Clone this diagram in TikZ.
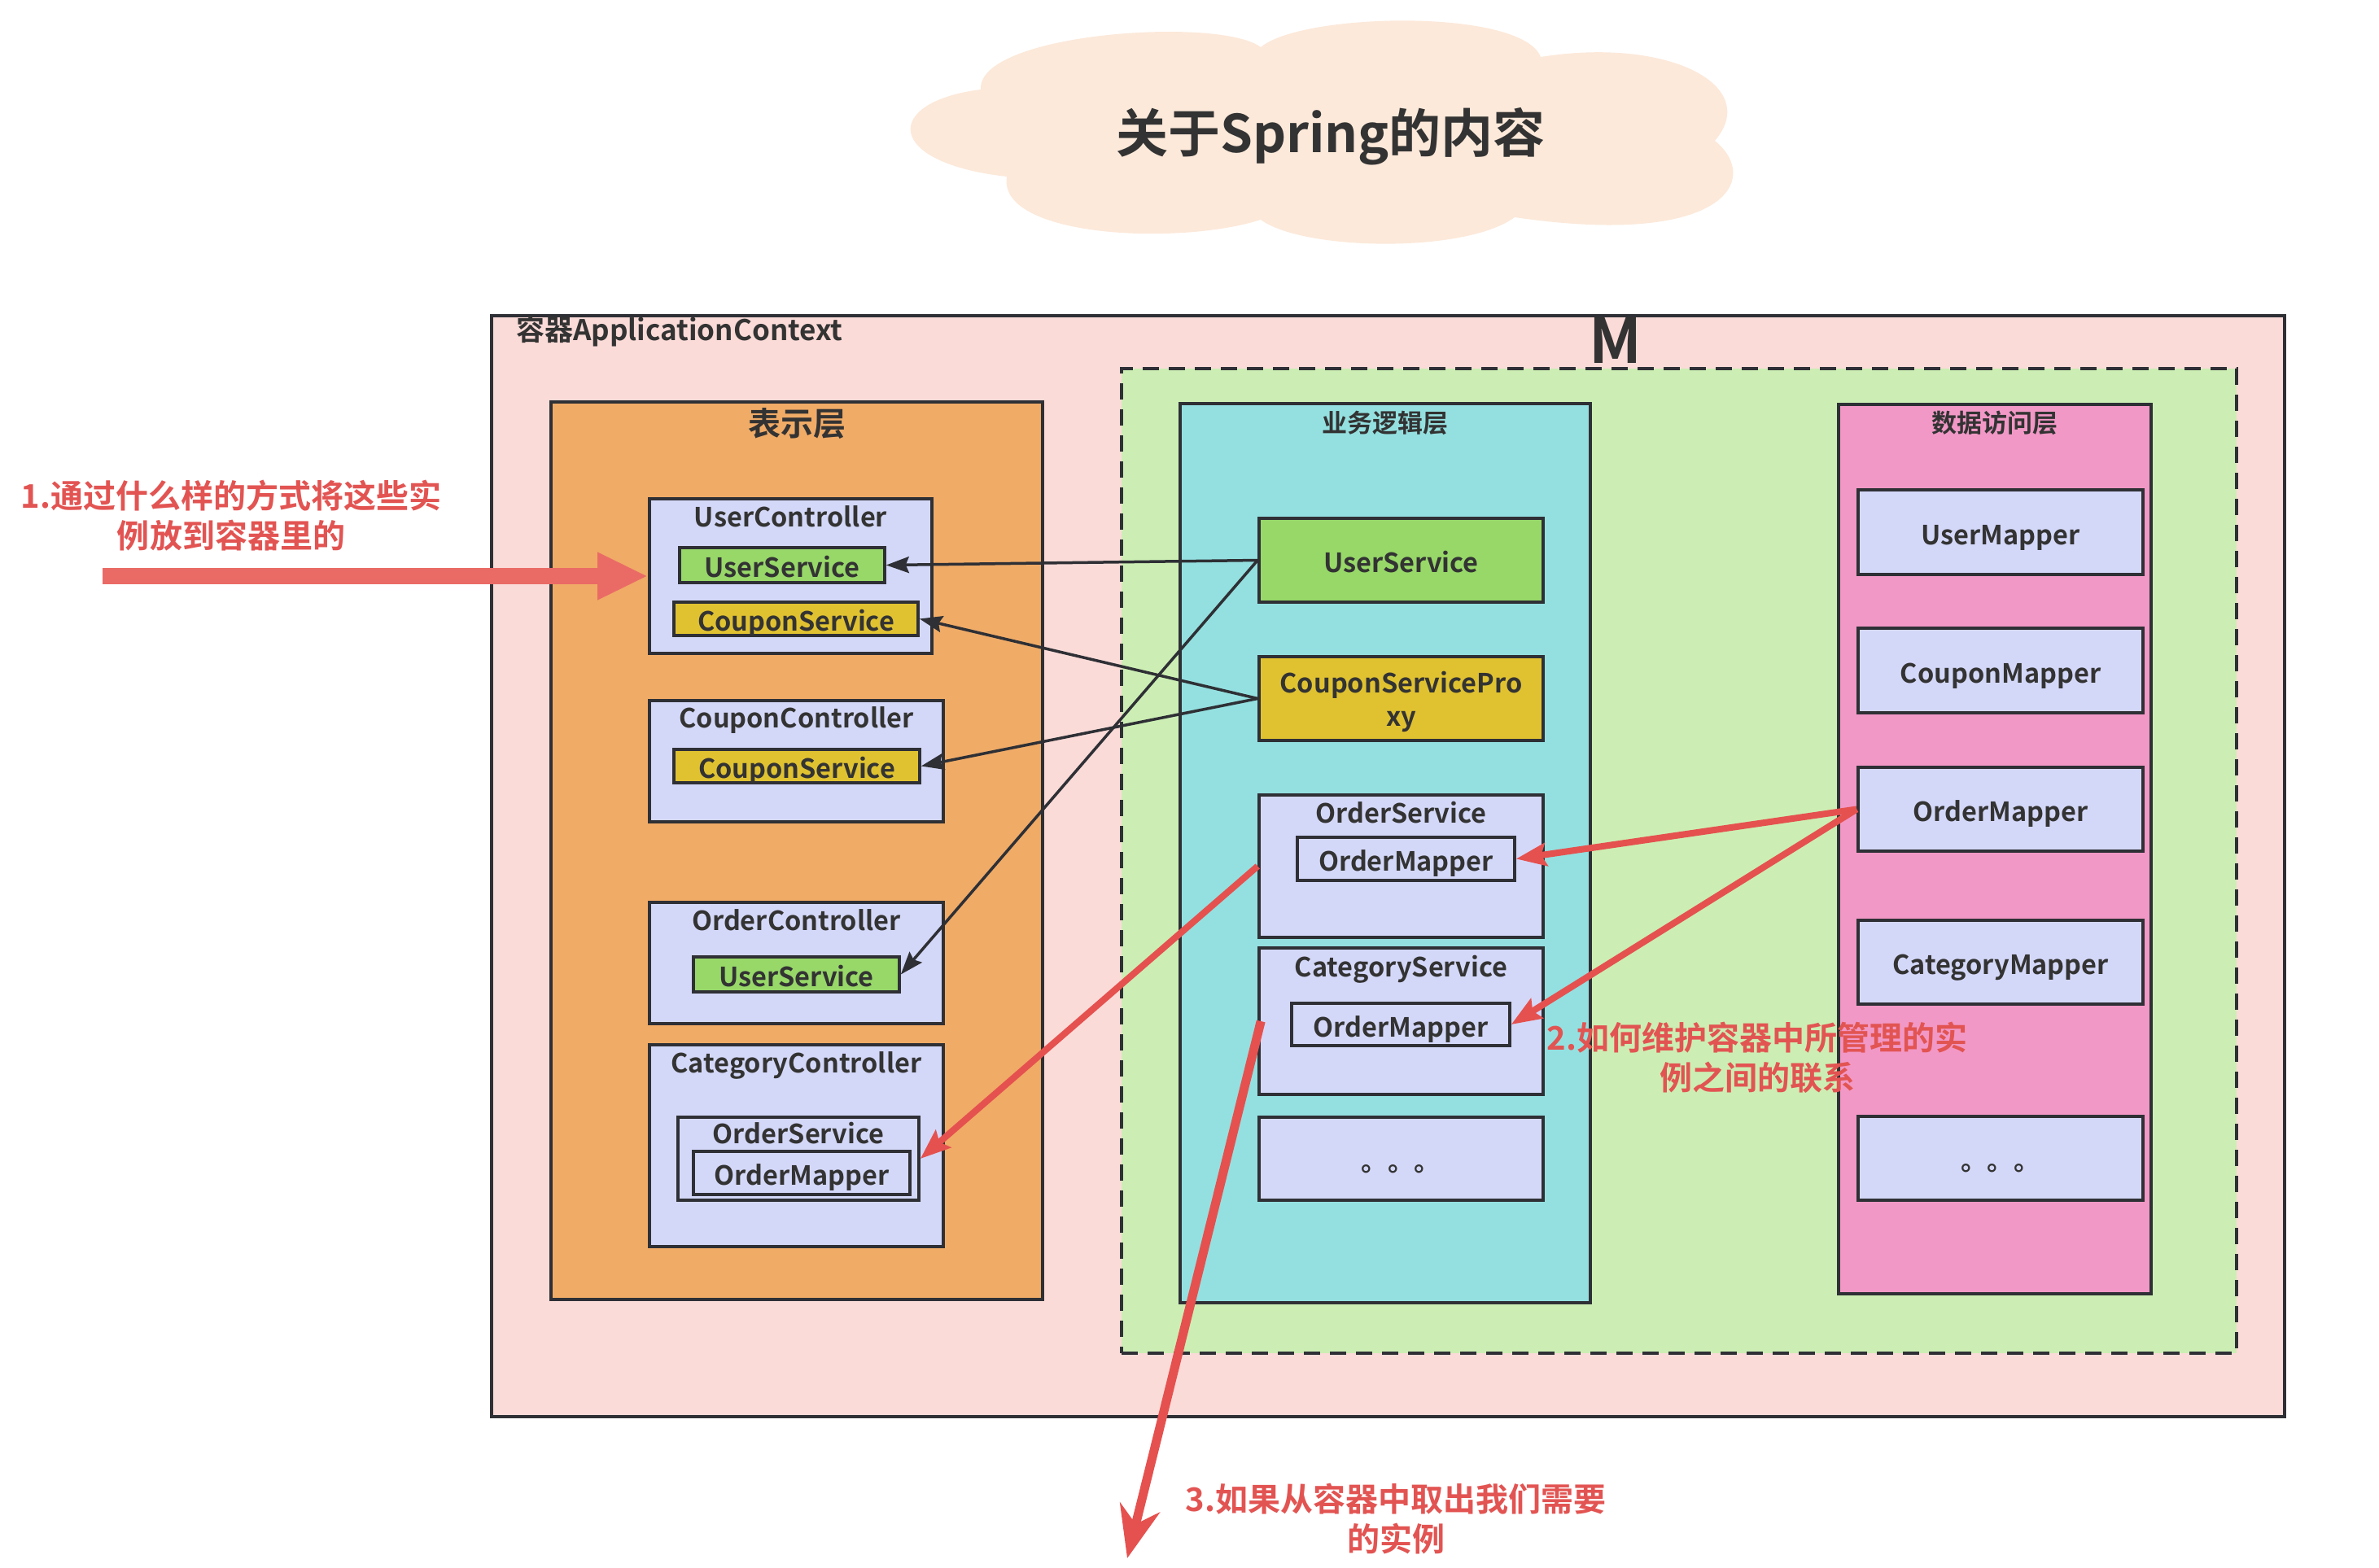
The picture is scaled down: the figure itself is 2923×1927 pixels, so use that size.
\documentclass[tikz,border=0pt]{standalone}
\usepackage{fontspec}
\setmainfont{Noto Sans CJK SC}[BoldFont={Noto Sans CJK SC Bold}]
\usetikzlibrary{arrows.meta}
\definecolor{bd}{HTML}{2E3035}
\definecolor{tx}{HTML}{333333}
\definecolor{cloudc}{HTML}{FCE9DA}
\definecolor{outerc}{HTML}{FADBD8}
\definecolor{orangec}{HTML}{F0AB67}
\definecolor{greenc}{HTML}{CCEEB4}
\definecolor{cyanc}{HTML}{94E0E0}
\definecolor{pinkc}{HTML}{F198C6}
\definecolor{lavc}{HTML}{D4D8F8}
\definecolor{svcg}{HTML}{97D869}
\definecolor{svcy}{HTML}{E0C231}
\definecolor{redc}{HTML}{E5514F}
\definecolor{redt}{HTML}{E25452}
\definecolor{salmon}{HTML}{EA6B66}
\begin{document}
\begin{tikzpicture}[x=1pt,y=-1pt,
  box/.style={draw=bd, line width=3.6pt, inner sep=0pt, fill=lavc},
  lbl/.style={font=\fontsize{32.5}{40}\selectfont\bfseries, text=tx, inner sep=0pt, text height=33pt, text depth=3pt},
  lbltwo/.style={font=\fontsize{32.5}{41}\selectfont\bfseries, text=tx, inner sep=0pt, align=center},
  ltitle/.style={font=\fontsize{31}{38}\selectfont\bfseries, text=tx, inner sep=0pt},
  note/.style={font=\fontsize{40}{49}\selectfont\bfseries, text=redt, inner sep=0pt, align=center},
  blk/.style={draw=bd, line width=3.5pt, -{Stealth[length=28pt,width=20pt,inset=4pt]}},
  redarr/.style={draw=redc, line width=8pt, -{Stealth[length=37pt,width=28pt,inset=6pt]}},
  bigred/.style={draw=redc, line width=11pt, -{Stealth[length=64pt,width=50pt]}},
  bigsalmon/.style={draw=salmon, line width=20pt, -{Triangle[length=62pt,width=54pt]}}
]
\useasboundingbox (0,0) rectangle (2923,1927);

% cloud
\fill[cloudc] (1205,110) .. controls (1200,40) and (1500,20) .. (1549,58)
  .. controls (1600,15) and (1870,10) .. (1893,70)
  .. controls (2050,45) and (2165,105) .. (2107,173)
  .. controls (2165,220) and (2120,305) .. (1861,267)
  .. controls (1800,312) and (1600,308) .. (1549,270)
  .. controls (1450,302) and (1225,292) .. (1237,217)
  .. controls (1085,200) and (1085,125) .. (1205,110) -- cycle;
\node[font=\fontsize{64}{72}\selectfont\bfseries, text=tx, inner sep=0pt] (title) at (1635,168) {关于Spring的内容};

% containers
\node[box, fill=outerc, minimum width=2203pt, minimum height=1353pt] (outer) at (1705.5,1064.5) {};
\node[font=\fontsize{35}{40}\selectfont\bfseries, text=tx, inner sep=0pt, anchor=west] (outerlbl) at (634,407) {容器ApplicationContext};
\node[font=\fontsize{76}{80}\selectfont\bfseries, text=tx, inner sep=0pt] (mlbl) at (1985,418) {M};
\node[box, fill=greenc, dash pattern=on 20pt off 12pt, minimum width=1370pt, minimum height=1210pt] (model) at (2063,1058) {};

% presentation layer
\node[box, fill=orangec, minimum width=604pt, minimum height=1103pt] (pres) at (979,1045.5) {};
\node[font=\fontsize{40}{46}\selectfont\bfseries, text=tx, inner sep=0pt] (prestitle) at (979,521) {表示层};

\node[box, minimum width=347pt, minimum height=190pt] (uc) at (971.5,708) {};
\node[lbl] (uctitle) at (971.5,632) {UserController};
\node[box, fill=svcg, minimum width=252pt, minimum height=43pt, lbl] (ucus) at (961,694.5) {UserService};
\node[box, fill=svcy, minimum width=300pt, minimum height=41pt, lbl] (uccs) at (978,760.5) {CouponService};

\node[box, minimum width=361pt, minimum height=149pt] (cc) at (978.5,935.5) {};
\node[lbl] (cctitle) at (978.5,879) {CouponController};
\node[box, fill=svcy, minimum width=302pt, minimum height=41pt, lbl] (cccs) at (979,941.5) {CouponService};

\node[box, minimum width=361pt, minimum height=149pt] (oc) at (978.5,1183.5) {};
\node[lbl] (octitle) at (978.5,1128) {OrderController};
\node[box, fill=svcg, minimum width=253pt, minimum height=43pt, lbl] (ocus) at (978.5,1197.5) {UserService};

\node[box, minimum width=361pt, minimum height=248pt] (catc) at (978.5,1408) {};
\node[lbl] (catctitle) at (978.5,1303) {CategoryController};
\node[box, minimum width=296pt, minimum height=102pt] (catos) at (981,1424) {};
\node[lbl] (catostitle) at (981,1390) {OrderService};
\node[box, minimum width=266pt, minimum height=53pt, lbl] (catom) at (985,1441.5) {OrderMapper};

% business layer
\node[box, fill=cyanc, minimum width=504pt, minimum height=1105pt] (biz) at (1702,1048.5) {};
\node[ltitle] (biztitle) at (1702,520) {业务逻辑层};
\node[box, fill=svcg, minimum width=349pt, minimum height=103pt, lbl] (bus) at (1721.5,688.5) {UserService};
\node[box, fill=svcy, minimum width=349pt, minimum height=103pt] (bcp) at (1721.5,858.5) {};
\node[lbltwo] (bcptext) at (1721.5,862) {CouponServicePro\\xy};
\node[box, minimum width=349pt, minimum height=175pt] (bos) at (1721.5,1064.5) {};
\node[lbl] (bostitle) at (1721.5,996) {OrderService};
\node[box, minimum width=267pt, minimum height=53pt, lbl] (bosom) at (1727.5,1055.5) {OrderMapper};
\node[box, minimum width=349pt, minimum height=180pt] (bcs) at (1721.5,1255) {};
\node[lbl] (bcstitle) at (1721.5,1185) {CategoryService};
\node[box, minimum width=268pt, minimum height=52pt, lbl] (bcsom) at (1721,1259) {OrderMapper};
\node[box, minimum width=349pt, minimum height=102pt, lbl] (bmore) at (1721.5,1424) {。。。};

% data access layer
\node[box, fill=pinkc, minimum width=384pt, minimum height=1093pt] (dao) at (2451,1043.5) {};
\node[ltitle] (daotitle) at (2451,520) {数据访问层};
\node[box, minimum width=350pt, minimum height=104pt, lbl] (um) at (2458,654) {UserMapper};
\node[box, minimum width=350pt, minimum height=104pt, lbl] (cm) at (2458,824) {CouponMapper};
\node[box, minimum width=350pt, minimum height=103pt, lbl] (om) at (2458,994.5) {OrderMapper};
\node[box, minimum width=350pt, minimum height=103pt, lbl] (catm) at (2458,1182.5) {CategoryMapper};
\node[box, minimum width=350pt, minimum height=103pt, lbl] (dmore) at (2458,1423.5) {。。。};

% black connectors
\draw[blk] (bus.west) -- (ucus.east);
\draw[blk] (bcp.west) -- (uccs.east);
\draw[blk] (bcp.west) -- (cccs.east);
\draw[blk] (bus.west) -- (ocus.east);

% red connectors
\draw[redarr] (om.west) -- (bosom.east);
\draw[redarr] (om.west) -- (bcsom.east);
\draw[redarr] (bos.west) -- (catos.east);
\coordinate (getout) at (1385,1915);
\draw[bigred] ([xshift=4pt]bcs.west) -- (getout);

% big salmon arrow
\coordinate (putin) at (126,708);
\draw[bigsalmon] (putin) -- (uc.west);

% notes
\node[note] (note1) at (284,634) {1.通过什么样的方式将这些实\\例放到容器里的};
\node[note] (note2) at (2159,1300) {2.如何维护容器中所管理的实\\例之间的联系};
\node[note] (note3) at (1715,1867) {3.如果从容器中取出我们需要\\的实例};
\end{tikzpicture}
\end{document}
